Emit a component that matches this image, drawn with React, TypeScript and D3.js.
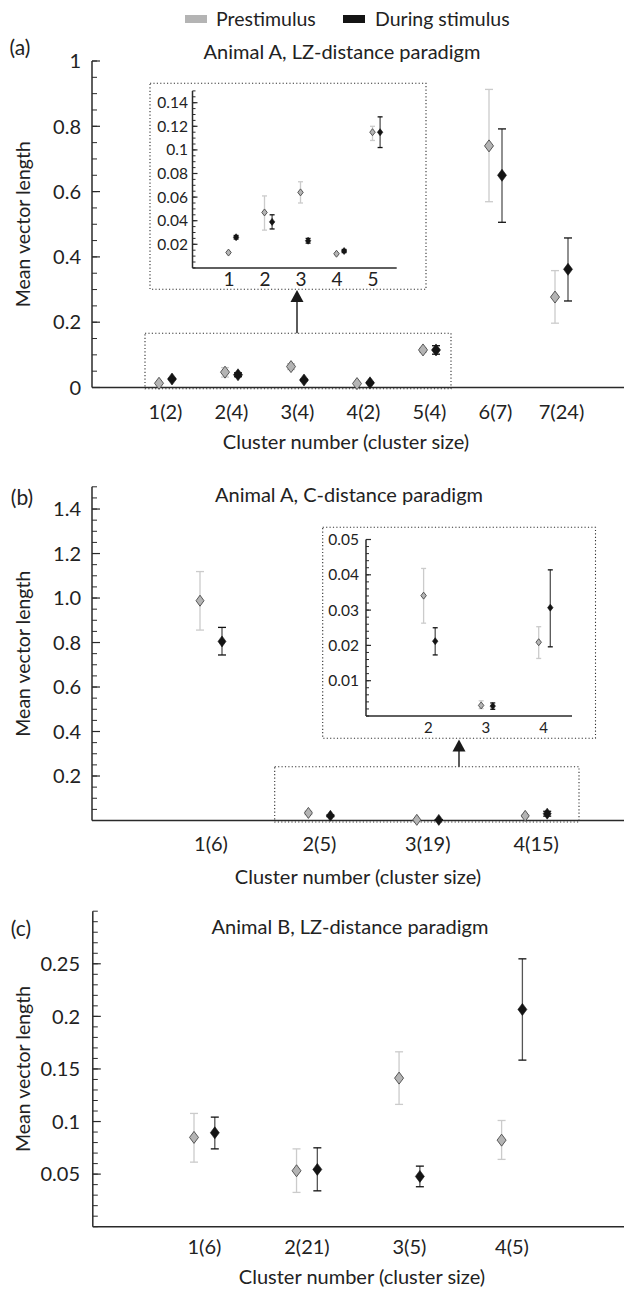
import React from "react";
import * as d3 from "d3";

// ---------- data ----------
const legendLabels = ["Prestimulus", "During stimulus"];

// Panel (a)
const aTitle = "Animal A, LZ-distance paradigm";
const aCategories = ["1(2)", "2(4)", "3(4)", "4(2)", "5(4)", "6(7)", "7(24)"];
const aPre = [0.013, 0.047, 0.064, 0.012, 0.115, 0.74, 0.277];
const aPreLo = [0.0122, 0.032, 0.055, 0.0112, 0.108, 0.569, 0.197];
const aPreHi = [0.0138, 0.061, 0.073, 0.0128, 0.12, 0.913, 0.358];
const aDur = [0.026, 0.039, 0.023, 0.0143, 0.115, 0.65, 0.362];
const aDurLo = [0.0245, 0.033, 0.021, 0.013, 0.102, 0.506, 0.265];
const aDurHi = [0.0275, 0.045, 0.025, 0.0156, 0.128, 0.792, 0.458];
const aYTicks = [0, 0.2, 0.4, 0.6, 0.8, 1];
const aYTickLabels = ["0", "0.2", "0.4", "0.6", "0.8", "1"];
const aInsetCategories = ["1", "2", "3", "4", "5"];
const aInsetYTicks = [0.02, 0.04, 0.06, 0.08, 0.1, 0.12, 0.14];
const aInsetYTickLabels = ["0.02", "0.04", "0.06", "0.08", "0.1", "0.12", "0.14"];

// Panel (b)
const bTitle = "Animal A, C-distance paradigm";
const bCategories = ["1(6)", "2(5)", "3(19)", "4(15)"];
const bPre = [0.988, 0.0341, 0.003, 0.0209];
const bPreLo = [0.856, 0.0263, 0.0021, 0.0163];
const bPreHi = [1.119, 0.0418, 0.0043, 0.0253];
const bDur = [0.805, 0.0212, 0.0028, 0.0307];
const bDurLo = [0.744, 0.0173, 0.0019, 0.0196];
const bDurHi = [0.868, 0.025, 0.0037, 0.0414];
const bYTicks = [0.2, 0.4, 0.6, 0.8, 1.0, 1.2, 1.4];
const bYTickLabels = ["0.2", "0.4", "0.6", "0.8", "1.0", "1.2", "1.4"];
const bInsetCategories = ["2", "3", "4"];
const bInsetYTicks = [0.01, 0.02, 0.03, 0.04, 0.05];
const bInsetYTickLabels = ["0.01", "0.02", "0.03", "0.04", "0.05"];

// Panel (c)
const cTitle = "Animal B, LZ-distance paradigm";
const cCategories = ["1(6)", "2(21)", "3(5)", "4(5)"];
const cPre = [0.0849, 0.0532, 0.1413, 0.0823];
const cPreLo = [0.0614, 0.0326, 0.1163, 0.064];
const cPreHi = [0.1077, 0.074, 0.1663, 0.101];
const cDur = [0.0893, 0.0545, 0.0478, 0.2066];
const cDurLo = [0.074, 0.0341, 0.038, 0.1584];
const cDurHi = [0.1042, 0.075, 0.0576, 0.2547];
const cYTicks = [0.05, 0.1, 0.15, 0.2, 0.25];
const cYTickLabels = ["0.05", "0.1", "0.15", "0.2", "0.25"];

const xTitle = "Cluster number (cluster size)";
const yTitle = "Mean vector length";

// ---------- style ----------
const FONT = "Lato, 'Open Sans', sans-serif";
const AX = "#2a2a2a";
const TXT = "#222";
const PRE_FILL = "#b4b4b4";
const PRE_STROKE = "#4a4a4a";
const PRE_ERR = "#cbcbcb";
const DUR_FILL = "#141414";
const DUR_ERR = "#555";
const DUR_CAP = "#111";

const FS_MAIN = 20;
const FS_TITLE = 20;
const FS_YTITLE = 19.5;
const FS_LEGEND = 19.5;
const FS_PANEL = 21;
const FS_INSET_TICK = 15.5;

type Scale = d3.ScaleLinear<number, number>;

function diamondPath(cx: number, cy: number, w: number, h: number) {
  const p = d3.path();
  p.moveTo(cx, cy - h / 2);
  p.lineTo(cx + w / 2, cy);
  p.lineTo(cx, cy + h / 2);
  p.lineTo(cx - w / 2, cy);
  p.closePath();
  return p.toString();
}

function YAxis(props: {
  y: Scale; x: number; max: number; ticks: number[]; labels: string[];
  minorStep: number; majorLen: number; minorLen: number; labelX: number; fontSize: number;
}) {
  const { y, x, max, ticks, labels, minorStep, majorLen, minorLen, labelX, fontSize } = props;
  const minors = d3.range(0, max + minorStep / 2, minorStep);
  return (
    <g>
      <line x1={x} x2={x} y1={y(0)} y2={y(max)} stroke={AX} strokeWidth={1.5} />
      {minors.map((t, i) => (
        <line key={"m" + i} x1={x} x2={x + minorLen} y1={y(t)} y2={y(t)} stroke={AX} strokeWidth={1} />
      ))}
      {ticks.map((t, i) => (
        <g key={"t" + i}>
          <line x1={x} x2={x + majorLen} y1={y(t)} y2={y(t)} stroke={AX} strokeWidth={1.2} />
          <text x={labelX} y={y(t)} dy="0.36em" textAnchor="end" fontSize={fontSize} fill={TXT}>
            {labels[i]}
          </text>
        </g>
      ))}
    </g>
  );
}

function Series(props: {
  x: Scale; y: Scale; n: number; offset: number; v: number[]; lo: number[]; hi: number[];
  pre: boolean; w: number; h: number; cap: number;
}) {
  const { x, y, n, offset, v, lo, hi, pre, w, h, cap } = props;
  return (
    <g>
      {d3.range(n).map((i) => {
        const cx = x(i + 1) + offset;
        return (
          <g key={i}>
            <line x1={cx} x2={cx} y1={y(lo[i])} y2={y(hi[i])} stroke={pre ? PRE_ERR : DUR_ERR} strokeWidth={1.3} />
            <line x1={cx - cap} x2={cx + cap} y1={y(lo[i])} y2={y(lo[i])} stroke={pre ? PRE_ERR : DUR_CAP} strokeWidth={1.3} />
            <line x1={cx - cap} x2={cx + cap} y1={y(hi[i])} y2={y(hi[i])} stroke={pre ? PRE_ERR : DUR_CAP} strokeWidth={1.3} />
            <path
              d={diamondPath(cx, y(v[i]), w, h)}
              fill={pre ? PRE_FILL : DUR_FILL}
              stroke={pre ? PRE_STROKE : DUR_FILL}
              strokeWidth={pre ? 0.9 : 0.6}
            />
          </g>
        );
      })}
    </g>
  );
}

function DottedBox({ x0, y0, x1, y1 }: { x0: number; y0: number; x1: number; y1: number }) {
  return (
    <rect x={x0} y={y0} width={x1 - x0} height={y1 - y0} fill="none" stroke="#333" strokeWidth={1.1} strokeDasharray="1.2,2.2" />
  );
}

function Arrow({ x, yFrom, yTo }: { x: number; yFrom: number; yTo: number }) {
  const headH = 12;
  const headW = 13;
  return (
    <g>
      <line x1={x} x2={x} y1={yFrom} y2={yTo + headH - 1} stroke="#333" strokeWidth={1.6} />
      <path d={`M${x},${yTo} L${x + headW / 2},${yTo + headH} L${x - headW / 2},${yTo + headH} Z`} fill="#1a1a1a" />
    </g>
  );
}

function XLabels({ x, labels, y, fontSize, dx = 0 }: { x: Scale; labels: string[]; y: number; fontSize: number; dx?: number }) {
  return (
    <g>
      {labels.map((l, i) => (
        <text key={i} x={x(i + 1) + dx} y={y} dy="0.36em" textAnchor="middle" fontSize={fontSize} fill={TXT}>
          {l}
        </text>
      ))}
    </g>
  );
}

export default function App() {
  const W = 624;
  const H = 1291;

  // ----- panel a scales -----
  const ay = d3.scaleLinear().domain([0, 1]).range([387.5, 61]);
  const ax = d3.scaleLinear().domain([1, 7]).range([165.5, 561.5]);
  const aiy = d3.scaleLinear().domain([0, 0.15]).range([267.9, 90.9]);
  const aix = d3.scaleLinear().domain([1, 5]).range([228.5, 372.5]);

  // ----- panel b scales -----
  const by = d3.scaleLinear().domain([0, 1.5]).range([820.5, 486.8]);
  const bx = d3.scaleLinear().domain([1, 4]).range([211, 536.2]);
  const biy = d3.scaleLinear().domain([0, 0.05]).range([716, 539.5]);
  const bix = d3.scaleLinear().domain([1, 3]).range([429.4, 544.5]);

  // ----- panel c scales -----
  const cy = d3.scaleLinear().domain([0, 0.3]).range([1226.7, 911.2]);
  const cx = d3.scaleLinear().domain([1, 4]).range([204.4, 512]);

  return (
    <svg
      width={W}
      height={H}
      viewBox={`0 0 ${W} ${H}`}
      style={{ position: "absolute", left: 0, top: 0, background: "#fff" }}
      fontFamily={FONT}
    >
      <rect x={0} y={0} width={W} height={H} fill="#fff" />

      {/* legend */}
      <rect x={185} y={15} width={22} height={8} fill={PRE_FILL} />
      <text x={216} y={19} dy="0.36em" fontSize={FS_LEGEND} fill={TXT}>{legendLabels[0]}</text>
      <rect x={343} y={15} width={22} height={8} fill={DUR_FILL} />
      <text x={375} y={19} dy="0.36em" fontSize={FS_LEGEND} fill={TXT}>{legendLabels[1]}</text>

      {/* ================= panel a ================= */}
      <text x={20} y={47} dy="0.36em" textAnchor="middle" fontSize={FS_PANEL} fill={TXT}>(a)</text>
      <text x={342} y={52} dy="0.36em" textAnchor="middle" fontSize={FS_TITLE} fill={TXT}>{aTitle}</text>
      <YAxis y={ay} x={92} max={1} ticks={aYTicks} labels={aYTickLabels} minorStep={0.05} majorLen={8} minorLen={5} labelX={81} fontSize={FS_MAIN} />
      <line x1={92} x2={624} y1={ay(0)} y2={ay(0)} stroke={AX} strokeWidth={1.6} />
      <XLabels x={ax} labels={aCategories} y={412} fontSize={FS_MAIN} />
      <text x={346} y={442} dy="0.36em" textAnchor="middle" fontSize={FS_TITLE} fill={TXT}>{xTitle}</text>
      <text transform={`translate(23,${(ay(0) + ay(1)) / 2}) rotate(-90)`} dy="0.36em" textAnchor="middle" fontSize={FS_YTITLE} fill={TXT}>{yTitle}</text>
      <DottedBox x0={145} y0={333.3} x1={451} y1={388.8} />
      <Series x={ax} y={ay} n={aCategories.length} offset={-6.5} v={aPre} lo={aPreLo} hi={aPreHi} pre w={9} h={12} cap={4} />
      <Series x={ax} y={ay} n={aCategories.length} offset={6.5} v={aDur} lo={aDurLo} hi={aDurHi} pre={false} w={9} h={12} cap={4} />
      <Arrow x={297} yFrom={333.3} yTo={290} />
      {/* inset a */}
      <DottedBox x0={150} y0={83.3} x1={426} y1={289.3} />
      <YAxis y={aiy} x={192.5} max={0.15} ticks={aInsetYTicks} labels={aInsetYTickLabels} minorStep={0.005} majorLen={5} minorLen={3} labelX={188} fontSize={FS_INSET_TICK} />
      <line x1={192.5} x2={396.7} y1={aiy(0)} y2={aiy(0)} stroke={AX} strokeWidth={1.5} />
      <XLabels x={aix} labels={aInsetCategories} y={279.5} fontSize={19} dx={0.5} />
      <Series x={aix} y={aiy} n={aInsetCategories.length} offset={0} v={aPre.slice(0, 5)} lo={aPreLo.slice(0, 5)} hi={aPreHi.slice(0, 5)} pre w={5.5} h={7} cap={2.5} />
      <Series x={aix} y={aiy} n={aInsetCategories.length} offset={7.6} v={aDur.slice(0, 5)} lo={aDurLo.slice(0, 5)} hi={aDurHi.slice(0, 5)} pre={false} w={5.5} h={7} cap={2.5} />

      {/* ================= panel b ================= */}
      <text x={22} y={497} dy="0.36em" textAnchor="middle" fontSize={FS_PANEL} fill={TXT}>(b)</text>
      <text x={349} y={495} dy="0.36em" textAnchor="middle" fontSize={FS_TITLE} fill={TXT}>{bTitle}</text>
      <YAxis y={by} x={92} max={1.5} ticks={bYTicks} labels={bYTickLabels} minorStep={0.05} majorLen={8} minorLen={5} labelX={81} fontSize={FS_MAIN} />
      <line x1={92} x2={624} y1={by(0)} y2={by(0)} stroke={AX} strokeWidth={1.6} />
      <XLabels x={bx} labels={bCategories} y={843.5} fontSize={FS_MAIN} />
      <text x={358} y={877} dy="0.36em" textAnchor="middle" fontSize={FS_TITLE} fill={TXT}>{xTitle}</text>
      <text transform={`translate(23,${(by(0) + by(1.5)) / 2}) rotate(-90)`} dy="0.36em" textAnchor="middle" fontSize={FS_YTITLE} fill={TXT}>{yTitle}</text>
      <DottedBox x0={274.7} y0={766.7} x1={579} y1={822} />
      <Series x={bx} y={by} n={bCategories.length} offset={-11} v={bPre} lo={bPreLo} hi={bPreHi} pre w={8} h={11} cap={4} />
      <Series x={bx} y={by} n={bCategories.length} offset={11} v={bDur} lo={bDurLo} hi={bDurHi} pre={false} w={8} h={11} cap={4} />
      <Arrow x={459} yFrom={766.7} yTo={739.5} />
      {/* inset b */}
      <DottedBox x0={322.7} y0={527.3} x1={595.5} y1={738.3} />
      <YAxis y={biy} x={366} max={0.05} ticks={bInsetYTicks} labels={bInsetYTickLabels} minorStep={0.002} majorLen={5} minorLen={3} labelX={359} fontSize={FS_INSET_TICK} />
      <line x1={366} x2={572} y1={biy(0)} y2={biy(0)} stroke={AX} strokeWidth={1.5} />
      <XLabels x={bix} labels={bInsetCategories} y={728} fontSize={15} dx={-1} />
      <Series x={bix} y={biy} n={bInsetCategories.length} offset={-5.8} v={bPre.slice(1)} lo={bPreLo.slice(1)} hi={bPreHi.slice(1)} pre w={5.5} h={7} cap={2.5} />
      <Series x={bix} y={biy} n={bInsetCategories.length} offset={5.8} v={bDur.slice(1)} lo={bDurLo.slice(1)} hi={bDurHi.slice(1)} pre={false} w={5.5} h={7} cap={2.5} />

      {/* ================= panel c ================= */}
      <text x={21} y={928} dy="0.36em" textAnchor="middle" fontSize={FS_PANEL} fill={TXT}>(c)</text>
      <text x={350} y={927} dy="0.36em" textAnchor="middle" fontSize={FS_TITLE} fill={TXT}>{cTitle}</text>
      <YAxis y={cy} x={92.8} max={0.3} ticks={cYTicks} labels={cYTickLabels} minorStep={0.01} majorLen={8} minorLen={5} labelX={80} fontSize={FS_MAIN} />
      <line x1={92.8} x2={624} y1={cy(0)} y2={cy(0)} stroke={AX} strokeWidth={1.6} />
      <XLabels x={cx} labels={cCategories} y={1246.7} fontSize={FS_MAIN} />
      <text x={362} y={1277} dy="0.36em" textAnchor="middle" fontSize={FS_TITLE} fill={TXT}>{xTitle}</text>
      <text transform={`translate(23,${(cy(0) + cy(0.3)) / 2}) rotate(-90)`} dy="0.36em" textAnchor="middle" fontSize={FS_YTITLE} fill={TXT}>{yTitle}</text>
      <Series x={cx} y={cy} n={cCategories.length} offset={-10.4} v={cPre} lo={cPreLo} hi={cPreHi} pre w={9} h={12} cap={4} />
      <Series x={cx} y={cy} n={cCategories.length} offset={10.4} v={cDur} lo={cDurLo} hi={cDurHi} pre={false} w={9} h={12} cap={4} />
    </svg>
  );
}
